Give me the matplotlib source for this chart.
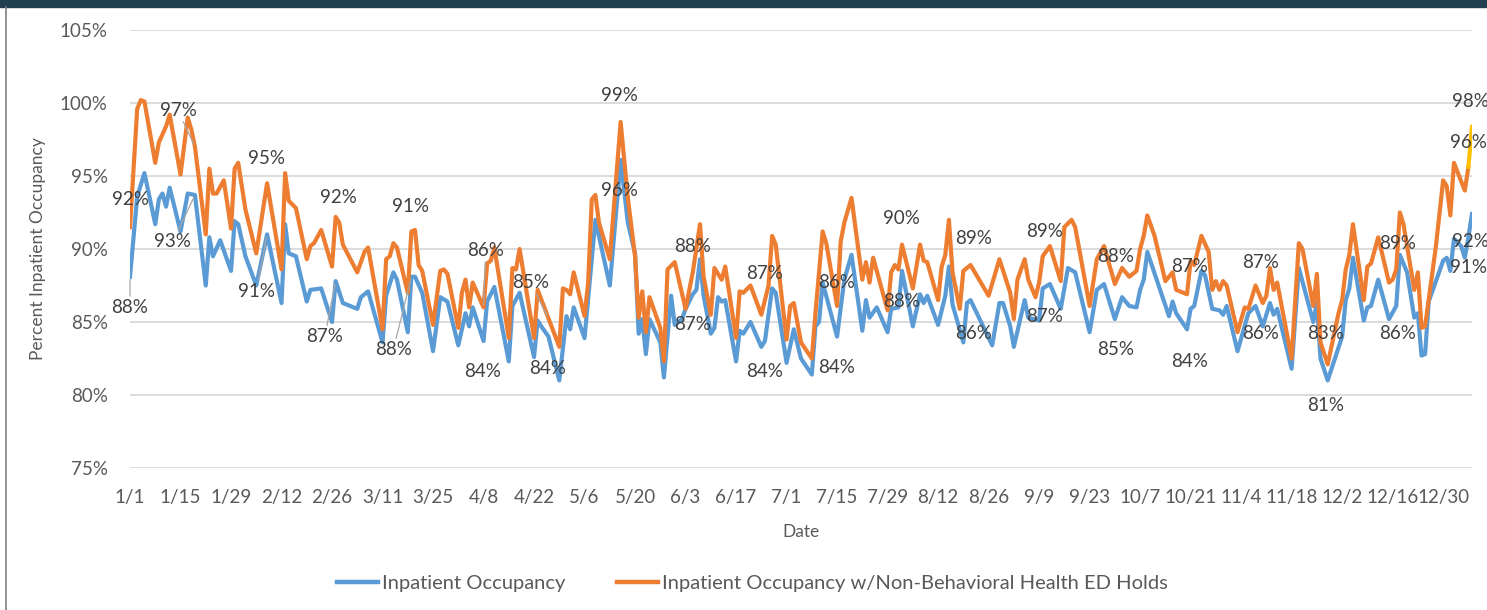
import numpy as np
import pandas as pd
import matplotlib
matplotlib.use("Agg")
import matplotlib.pyplot as plt
from matplotlib.patches import Rectangle
from matplotlib.lines import Line2D

plt.rcParams['font.family'] = ['Lato', 'DejaVu Sans']

# daily axis: 1/1 through 1/7 of the following year
dates = pd.date_range("2020-01-01", periods=373)
tick_labels = [f"{d.month}/{d.day}" for d in dates[::14]]

# (day index, percent)
inpatient = [
    (0, 88.1), (2, 93.6), (4, 95.2), (7, 91.7), (8, 93.4), (9, 93.8), (10, 92.9), (11, 94.2),
    (14, 91.2), (16, 93.8), (18, 93.7), (21, 87.5), (22, 90.8), (23, 89.5), (25, 90.6), (28, 88.5),
    (29, 91.9), (30, 91.7), (32, 89.5), (35, 87.5), (38, 91.0), (42, 86.3), (43, 91.7), (44, 89.7),
    (46, 89.5), (49, 86.4), (50, 87.2), (53, 87.3), (56, 85.0), (57, 87.8), (59, 86.3), (63, 85.9),
    (64, 86.7), (66, 87.1), (70, 83.6), (71, 86.8), (73, 88.4), (74, 87.9), (77, 84.3), (78, 88.1),
    (79, 88.1), (81, 87.0), (84, 83.0), (86, 86.7), (88, 86.4), (91, 83.4), (93, 85.6), (94, 84.7),
    (95, 86.0), (98, 83.7), (99, 86.4), (101, 87.4), (105, 82.3), (106, 86.1), (108, 87.0), (112, 82.6),
    (113, 85.1), (114, 84.7), (116, 84.0), (119, 81.0), (121, 85.4), (122, 84.5), (123, 86.0), (126, 83.9),
    (129, 92.0), (133, 87.5), (136, 96.1), (138, 91.8), (140, 89.7), (141, 84.2), (142, 85.2), (143, 82.8),
    (144, 85.2), (147, 83.6), (148, 81.2), (150, 86.8), (151, 84.8), (153, 85.2), (154, 85.9), (156, 86.9),
    (157, 87.2), (158, 89.3), (159, 86.8), (161, 84.2), (162, 84.6), (163, 86.7), (164, 86.4), (165, 86.5),
    (168, 82.3), (169, 84.4), (170, 84.2), (172, 85.0), (175, 83.3), (176, 83.7), (178, 87.3), (179, 87.0),
    (182, 82.2), (184, 84.5), (186, 82.5), (189, 81.4), (190, 84.7), (191, 85.0), (192, 87.7), (196, 84.0),
    (198, 87.9), (200, 89.6), (203, 84.4), (204, 86.5), (205, 85.3), (207, 86.0), (210, 84.3), (211, 85.9),
    (213, 86.0), (214, 88.5), (217, 84.7), (219, 86.9), (220, 86.3), (221, 86.8), (224, 84.8), (226, 86.8),
    (227, 88.8), (228, 86.2), (231, 83.6), (232, 86.3), (233, 86.5), (239, 83.4), (241, 86.3), (242, 86.3),
    (244, 84.7), (245, 83.3), (248, 86.5), (249, 85.3), (252, 85.1), (253, 87.3), (255, 87.6), (258, 85.9),
    (260, 88.7), (262, 88.4), (266, 84.3), (268, 87.2), (270, 87.6), (273, 85.2), (275, 86.7), (277, 86.1),
    (279, 86.0), (280, 87.2), (281, 87.9), (282, 89.8), (288, 85.4), (289, 86.4), (290, 85.6), (293, 84.5),
    (294, 85.9), (295, 86.1), (297, 88.5), (298, 88.2), (300, 85.9), (302, 85.8), (303, 85.5), (304, 86.1),
    (307, 83.0), (310, 85.6), (312, 86.1), (314, 84.7), (316, 86.3), (317, 85.5), (318, 85.9), (322, 81.8),
    (324, 88.7), (328, 85.0), (329, 86.3), (330, 82.5), (332, 81.0), (336, 84.0), (337, 86.5), (338, 87.3),
    (339, 89.4), (342, 85.1), (343, 86.0), (344, 86.1), (346, 87.9), (349, 85.2), (351, 86.1), (352, 89.6),
    (354, 88.4), (356, 85.3), (357, 85.6), (358, 82.7), (359, 82.8), (360, 86.4), (364, 89.2), (365, 89.4),
    (366, 88.5), (367, 90.7), (369, 90.2), (370, 89.4), (371, 90.8), (372, 92.4),
]

with_ed_holds = [
    (0, 91.5), (2, 99.6), (3, 100.2), (4, 100.1), (7, 95.9), (8, 97.3), (10, 98.4), (11, 99.2),
    (14, 95.1), (16, 99.0), (17, 98.2), (18, 97.0), (21, 91.0), (22, 95.5), (23, 93.8), (24, 93.8),
    (26, 94.7), (28, 91.4), (29, 95.5), (30, 95.9), (32, 92.7), (35, 89.7), (38, 94.5), (42, 88.6),
    (43, 95.2), (44, 93.3), (46, 92.8), (49, 89.3), (50, 90.2), (51, 90.4), (53, 91.3), (56, 88.8),
    (57, 92.2), (58, 91.8), (59, 90.3), (63, 88.4), (65, 89.8), (66, 90.1), (70, 84.5), (71, 89.3),
    (72, 89.5), (73, 90.4), (74, 90.1), (77, 87.0), (78, 91.2), (79, 91.3), (80, 88.9), (81, 88.5),
    (84, 84.8), (86, 88.5), (87, 88.6), (88, 88.3), (91, 84.6), (92, 87.0), (93, 87.9), (94, 86.0),
    (95, 87.7), (98, 86.0), (99, 89.0), (100, 89.2), (101, 90.1), (105, 83.9), (106, 88.7), (107, 88.6),
    (108, 90.0), (112, 83.9), (113, 87.2), (119, 83.3), (120, 87.3), (121, 87.2), (122, 86.9), (123, 88.4),
    (126, 85.4), (127, 87.7), (128, 93.4), (129, 93.7), (130, 91.8), (133, 89.3), (136, 98.7), (138, 93.5),
    (140, 89.5), (141, 85.3), (142, 87.1), (143, 84.3), (144, 86.7), (147, 84.6), (148, 82.3), (149, 88.6),
    (151, 89.1), (154, 85.9), (156, 88.4), (158, 91.7), (159, 88.1), (161, 85.5), (162, 88.7), (164, 87.9),
    (165, 88.8), (168, 83.9), (169, 87.1), (170, 87.0), (172, 87.5), (175, 85.5), (177, 87.5), (178, 90.9),
    (179, 90.3), (182, 83.8), (183, 86.1), (184, 86.3), (186, 83.6), (189, 82.5), (190, 85.6), (192, 91.2),
    (193, 90.4), (196, 86.1), (197, 90.5), (198, 91.8), (200, 93.5), (203, 87.9), (204, 89.1), (205, 87.7),
    (206, 89.4), (210, 85.8), (211, 88.4), (212, 88.9), (213, 88.6), (214, 90.3), (217, 87.3), (219, 90.3),
    (220, 89.2), (221, 89.1), (224, 86.5), (225, 88.8), (226, 89.6), (227, 92.0), (228, 88.4), (230, 85.9),
    (231, 88.5), (233, 88.9), (238, 86.8), (241, 89.3), (244, 87.0), (245, 85.2), (246, 87.9), (248, 89.3),
    (249, 87.9), (251, 86.7), (252, 87.7), (253, 89.5), (255, 90.2), (258, 87.8), (259, 91.5), (261, 92.0),
    (262, 91.5), (266, 86.1), (268, 89.3), (270, 90.2), (273, 87.6), (275, 88.7), (277, 88.1), (279, 88.5),
    (280, 90.0), (281, 90.9), (282, 92.3), (284, 90.9), (287, 87.8), (289, 88.4), (290, 87.2), (293, 86.9),
    (294, 89.2), (295, 88.9), (297, 90.9), (299, 89.8), (300, 87.2), (301, 87.8), (302, 87.2), (303, 87.8),
    (304, 87.5), (307, 84.3), (309, 86.0), (310, 85.9), (312, 87.5), (314, 86.3), (315, 86.8), (316, 88.7),
    (317, 87.2), (318, 87.7), (322, 82.5), (324, 90.4), (325, 90.0), (328, 86.1), (329, 88.3), (330, 83.6),
    (332, 82.1), (335, 85.6), (336, 86.5), (337, 88.6), (338, 89.6), (339, 91.7), (342, 86.5), (343, 88.8),
    (344, 89.0), (346, 90.8), (349, 87.7), (350, 87.9), (351, 88.6), (352, 92.5), (353, 91.7), (356, 87.2),
    (357, 88.4), (358, 84.6), (359, 84.7), (362, 90.2), (364, 94.7), (365, 94.3), (366, 92.3), (367, 95.9),
    (370, 94.0), (371, 95.6),
]

# last day, drawn in gold
latest = [(371, 95.6), (372, 98.4)]

# data labels: text, label position (day, pct), day the leader line points to
ed_labels = [
    ("92%", 0, 93.4, None), ("97%", 13.3, 99.5, 18), ("95%", 37.8, 96.2, None),
    ("92%", 57.8, 93.5, None), ("91%", 77.8, 92.9, None), ("86%", 98.6, 89.9, 98),
    ("85%", 111, 87.7, 116), ("99%", 135.6, 100.5, None), ("88%", 156, 90.2, None),
    ("87%", 175.8, 88.3, None), ("86%", 195.8, 87.7, None), ("90%", 213.9, 92.1, None),
    ("89%", 233.9, 90.7, None), ("89%", 253.6, 91.2, None), ("88%", 273.3, 89.5, None),
    ("87%", 293.6, 88.8, None), ("87%", 313.3, 89.1, None), ("83%", 331.4, 84.2, None),
    ("89%", 351.4, 90.4, None), ("96%", 371.1, 97.3, None), ("98%", 371.7, 100.1, None),
]
inp_labels = [
    ("88%", 0, 86.0, 0), ("93%", 11.9, 90.5, 18), ("91%", 35, 87.1, 38),
    ("87%", 54, 84.0, 57), ("88%", 73, 83.1, 78), ("84%", 97.8, 81.6, None),
    ("84%", 115.8, 81.8, None), ("96%", 135.6, 94.0, None), ("87%", 156, 84.8, None),
    ("84%", 175.8, 81.6, None), ("84%", 195.8, 81.9, None), ("88%", 213.9, 86.4, None),
    ("86%", 233.9, 84.2, None), ("87%", 253.6, 85.4, None), ("85%", 273.3, 83.1, None),
    ("84%", 293.6, 82.3, None), ("86%", 313.3, 84.2, None), ("81%", 331.4, 79.3, None),
    ("86%", 351.4, 84.2, None), ("91%", 371.1, 88.7, None), ("92%", 371.7, 90.5, None),
]

BLUE = "#5B9BD5"
ORANGE = "#ED7D31"
GOLD = "#FFC000"
TXT = "#595959"
FS = 13.5

fig = plt.figure(figsize=(14.87, 6.10), dpi=100)
ax = fig.add_axes([130 / 1487, 1 - 468 / 610, (1472 - 130) / 1487, (468 - 30) / 610])

inp_d, inp_v = zip(*inpatient)
ed_d, ed_v = zip(*with_ed_holds)
lt_d, lt_v = zip(*latest)

ax.plot(inp_d, inp_v, color=BLUE, lw=3.0, solid_joinstyle='round', zorder=3)
ax.plot(ed_d, ed_v, color=ORANGE, lw=3.0, solid_joinstyle='round', zorder=4)
ax.plot(lt_d, lt_v, color=GOLD, lw=3.0, solid_capstyle='round', zorder=4)

ax.set_xlim(0, len(dates) - 1)
ax.set_ylim(75, 105)
ax.set_yticks(np.arange(75, 106, 5))
ax.set_yticklabels([f"{v}%" for v in range(75, 106, 5)])
ax.set_xticks(np.arange(0, len(dates), 14))
ax.set_xticklabels(tick_labels)
ax.grid(axis='y', color='#D9D9D9', lw=1.3)
ax.set_axisbelow(True)
for s in ax.spines.values():
    s.set_visible(False)
ax.tick_params(length=0, labelsize=FS, labelcolor=TXT)
ax.tick_params(axis='y', pad=16)
ax.tick_params(axis='x', pad=15)

ax.set_ylabel("Percent Inpatient Occupancy", fontsize=12.5, color=TXT, labelpad=10)
ax.set_xlabel("Date", fontsize=12.5, color=TXT, labelpad=13)


def add_labels(labels, days, vals):
    for text, tx, ty, lead in labels:
        if lead is None:
            ax.text(tx, ty, text, ha='center', va='center', fontsize=FS,
                    color='#404040', zorder=6, clip_on=False)
        else:
            ax.annotate(text, xy=(lead, np.interp(lead, days, vals)), xytext=(tx, ty),
                        ha='center', va='center', fontsize=FS, color='#404040', zorder=6,
                        arrowprops=dict(arrowstyle='-', color='#A6A6A6', lw=0.9,
                                        shrinkA=0, shrinkB=2))


add_labels(ed_labels, ed_d, ed_v)
add_labels(inp_labels, inp_d, inp_v)

handles = [Line2D([], [], color=BLUE, lw=3.2), Line2D([], [], color=ORANGE, lw=3.2)]
fig.legend(handles, ["Inpatient Occupancy",
                     "Inpatient Occupancy w/Non-Behavioral Health ED Holds"],
           loc='center', bbox_to_anchor=(0.506, 1 - 583 / 610), ncol=2, frameon=False,
           fontsize=14.5, labelcolor=TXT, handlelength=2.0, handletextpad=0.2,
           columnspacing=2.6)

# chart frame: dark band on top, grey edge on the left
fig.patches.append(Rectangle((0, 1 - 7 / 610), 1, 7 / 610, transform=fig.transFigure,
                             color='#22404F', zorder=0))
fig.lines.append(Line2D([6 / 1487, 6 / 1487], [0, 1 - 7 / 610], transform=fig.transFigure,
                        color='#808080', lw=1.2))

fig.savefig("out.png", dpi=100)
